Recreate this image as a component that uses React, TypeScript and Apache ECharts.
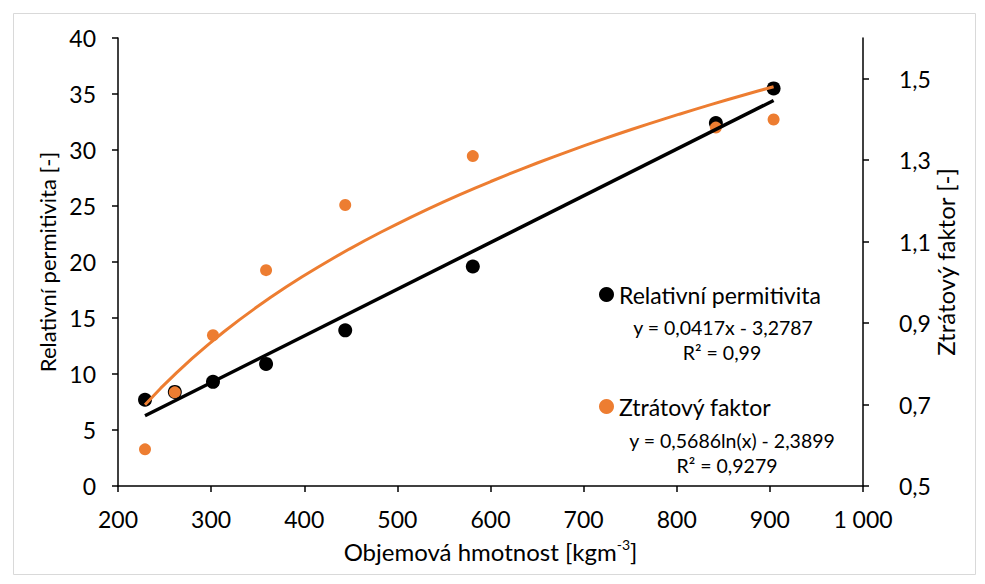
import React, { useEffect, useRef } from "react";
import * as echarts from "echarts";

// Data
const density = [229, 261, 302, 359, 444, 581, 842, 904];
const permitivita = [7.7, 8.4, 9.3, 10.9, 13.9, 19.6, 32.4, 35.5];
const ztratovyFaktor = [0.59, 0.73, 0.87, 1.03, 1.19, 1.31, 1.38, 1.4];

// Trendline coefficients, as printed on the chart
const linSlope = 0.0417;
const linIntercept = -3.2787;
const logCoef = 0.5686;
const logIntercept = -2.3899;

const rightTicks = [0.5, 0.7, 0.9, 1.1, 1.3, 1.5];

const FONT = "Lato, 'Open Sans', sans-serif";

export default function App() {
  const ref = useRef<HTMLDivElement>(null);

  useEffect(() => {
    if (!ref.current) return;
    const chart = echarts.init(ref.current, undefined, { renderer: "svg" });

    const xMin = density[0];
    const xMax = density[density.length - 1];
    const linTrend = [xMin, xMax].map((x) => [x, linSlope * x + linIntercept]);
    const logTrend: number[][] = [];
    const steps = 40;
    for (let i = 0; i <= steps; i++) {
      const x = xMin + ((xMax - xMin) * i) / steps;
      logTrend.push([x, logCoef * Math.log(x) + logIntercept]);
    }

    const fmtX = (v: number) =>
      v >= 1000 ? String(v).replace(/\B(?=(\d{3})+(?!\d))/g, " ") : String(v);
    const fmtComma = (v: number) => v.toFixed(1).replace(".", ",");

    const axisLine = { show: true, lineStyle: { color: "#000", width: 1.5 } };
    const axisTick = { show: true, inside: false, length: 6, lineStyle: { color: "#000", width: 1.5 } };
    const labelStyle = { color: "#000", fontSize: 23, fontFamily: FONT };
    const eqStyle = {
      fontSize: 19.5,
      fontFamily: FONT,
      fill: "#000",
      textAlign: "center",
      textVerticalAlign: "middle",
    };

    chart.setOption({
      animation: false,
      textStyle: { fontFamily: FONT },
      grid: { left: 118, right: 122, top: 38, bottom: 98, containLabel: false },
      graphic: [
        {
          type: "rect",
          left: 11,
          top: 11,
          shape: { width: 962, height: 561 },
          style: { fill: "none", stroke: "#d9d9d9", lineWidth: 1 },
          z: -10,
          silent: true,
        },
        { type: "text", x: 723, y: 327, style: { ...eqStyle, text: "y = 0,0417x - 3,2787" } },
        { type: "text", x: 722, y: 352, style: { ...eqStyle, text: "R² = 0,99" } },
        { type: "text", x: 732, y: 440, style: { ...eqStyle, text: "y = 0,5686ln(x) - 2,3899" } },
        { type: "text", x: 727, y: 465, style: { ...eqStyle, text: "R² = 0,9279" } },
      ],
      legend: [
        {
          data: ["Relativní permitivita"],
          left: 599,
          top: 283,
          icon: "circle",
          itemWidth: 15,
          itemHeight: 15,
          itemGap: 0,
          padding: 0,
          textStyle: { fontSize: 23, color: "#000", fontFamily: FONT },
        },
        {
          data: ["Ztrátový faktor"],
          left: 599,
          top: 395,
          icon: "circle",
          itemWidth: 15,
          itemHeight: 15,
          itemGap: 0,
          padding: 0,
          textStyle: { fontSize: 23, color: "#000", fontFamily: FONT },
        },
      ],
      xAxis: {
        type: "value",
        min: 200,
        max: 1000,
        interval: 100,
        splitLine: { show: false },
        axisLine,
        axisTick,
        axisLabel: { ...labelStyle, margin: 21, formatter: fmtX },
        name: "Objemová hmotnost [kgm{sup|-3}]",
        nameLocation: "middle",
        nameGap: 51,
        nameTextStyle: {
          color: "#000",
          fontSize: 24,
          fontFamily: FONT,
          lineHeight: 28,
          rich: {
            sup: { fontSize: 14, verticalAlign: "top", lineHeight: 28, color: "#000", fontFamily: FONT },
          },
        },
      },
      yAxis: [
        {
          type: "value",
          min: 0,
          max: 40,
          interval: 5,
          position: "left",
          splitLine: { show: false },
          axisLine,
          axisTick,
          axisLabel: { ...labelStyle, margin: 22 },
          name: "Relativní permitivita [-]",
          nameLocation: "middle",
          nameGap: 59,
          nameRotate: 90,
          nameTextStyle: { color: "#000", fontSize: 22, fontFamily: FONT },
        },
        {
          type: "value",
          min: 0.5,
          max: 1.6,
          position: "right",
          splitLine: { show: false },
          axisLine,
          axisTick: { ...axisTick, customValues: rightTicks },
          axisLabel: { ...labelStyle, margin: 36, formatter: fmtComma, customValues: rightTicks },
          name: "Ztrátový faktor [-]",
          nameLocation: "middle",
          nameGap: 70,
          nameMoveOverlap: false,
          nameRotate: 90,
          nameTextStyle: { color: "#000", fontSize: 24, fontFamily: FONT },
        },
      ],
      series: [
        {
          name: "Relativní permitivita",
          type: "scatter",
          yAxisIndex: 0,
          symbol: "circle",
          symbolSize: 14,
          itemStyle: { color: "#000", opacity: 1 },
          data: density.map((x, i) => [x, permitivita[i]]),
          z: 2,
        },
        {
          name: "Ztrátový faktor",
          type: "scatter",
          yAxisIndex: 1,
          symbol: "circle",
          symbolSize: 12,
          itemStyle: { color: "#ED7D31", opacity: 1 },
          data: density.map((x, i) => [x, ztratovyFaktor[i]]),
          z: 3,
        },
        {
          name: "trend-lin",
          type: "line",
          yAxisIndex: 0,
          showSymbol: false,
          symbol: "none",
          lineStyle: { color: "#000", width: 3.5 },
          data: linTrend,
          z: 4,
          silent: true,
        },
        {
          name: "trend-log",
          type: "line",
          yAxisIndex: 1,
          showSymbol: false,
          symbol: "none",
          lineStyle: { color: "#ED7D31", width: 3 },
          data: logTrend,
          z: 5,
          silent: true,
        },
      ],
    });

    return () => chart.dispose();
  }, []);

  return (
    <div
      ref={ref}
      style={{ position: "fixed", left: 0, top: 0, width: 985, height: 584, background: "#fff" }}
    />
  );
}
